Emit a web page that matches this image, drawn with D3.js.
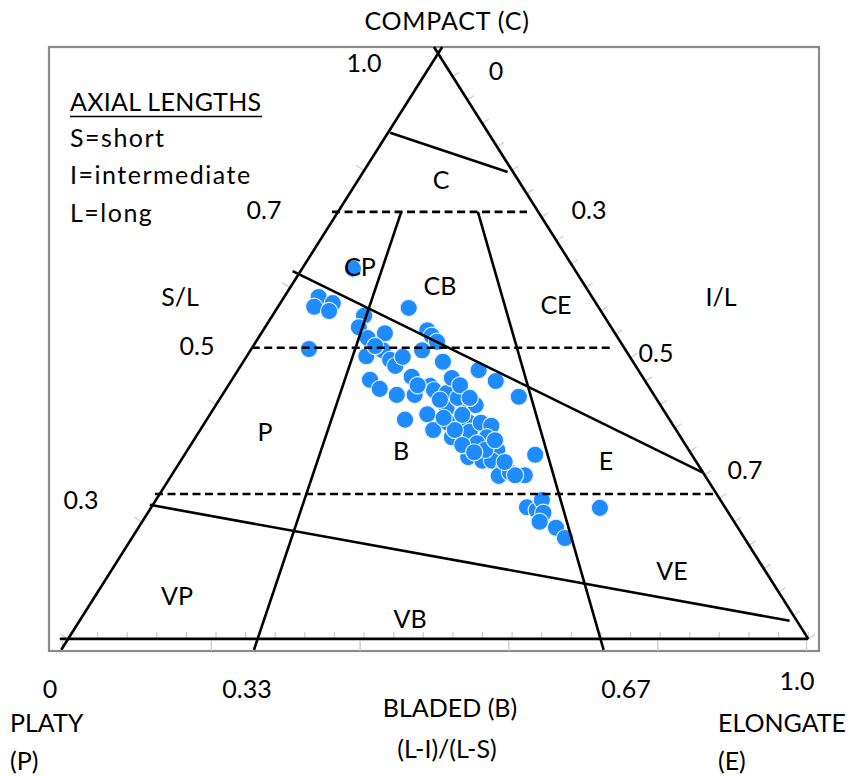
<!DOCTYPE html>
<html>
<head>
<meta charset="utf-8">
<script src="https://cdn.jsdelivr.net/npm/d3@7"></script>
<style>
  html, body { margin: 0; padding: 0; background: #fff; }
  svg { display: block; }
  text { font-family: Lato, "Open Sans", sans-serif; fill: #000; }
</style>
</head>
<body>
<svg id="chart" width="859" height="776"></svg>
<script>
// Sneed & Folk form diagram: horizontal axis is (L-I)/(L-S), vertical is the diagram height.
// Sample positions in diagram units (x: 0 = platy edge, 1 = elongate edge; y: 0 = axis, 1 = top).
const sampleX = [0.391,0.345,0.339,0.364,0.359,0.466,0.332,0.406,0.399,0.411,0.434,0.491,0.497,0.504,
  0.409,0.431,0.441,0.448,0.458,0.484,0.512,0.414,0.427,0.450,0.470,0.495,0.500,0.517,0.524,0.560,
  0.583,0.614,0.461,0.491,0.499,0.517,0.543,0.556,0.519,0.524,0.546,0.548,0.563,0.577,0.571,0.558,
  0.585,0.546,0.565,0.578,0.593,0.587,0.622,0.636,0.625,0.638,0.645,0.647,0.642,0.664,0.676,0.723,
  0.532,0.538,0.508,0.474,0.528,0.569,0.602,0.421,0.535,0.548,0.582,0.609,0.513,0.538,0.554,0.595,0.478];
const sampleY = [0.633,0.586,0.570,0.576,0.563,0.568,0.500,0.555,0.536,0.518,0.526,0.531,0.522,0.512,
  0.488,0.498,0.482,0.472,0.487,0.498,0.479,0.449,0.434,0.424,0.454,0.439,0.432,0.427,0.452,0.465,
  0.447,0.421,0.383,0.392,0.366,0.402,0.409,0.407,0.378,0.354,0.379,0.363,0.378,0.373,0.354,0.344,
  0.333,0.321,0.315,0.315,0.300,0.290,0.291,0.325,0.238,0.233,0.250,0.229,0.214,0.204,0.187,0.237,
  0.419,0.391,0.416,0.424,0.366,0.333,0.296,0.505,0.440,0.419,0.349,0.291,0.386,0.341,0.329,0.313,0.440];

// Class boundaries of the diagram, as [x1, y1, x2, y2] in the same units.
const frameSegments = [
  [-0.001, 0.002, 0.511, 1.000],   // platy side
  [ 0.500, 1.000, 1.003, 0.020],   // elongate side
  [-0.003, 0.020, 1.003, 0.020],   // base
];
const solidSegments = [
  [0.441, 0.858, 0.599, 0.793],    // compact cap
  [0.310, 0.629, 0.862, 0.295],    // CP/CB/CE lower limit
  [0.118, 0.242, 0.978, 0.050],    // very platy/bladed/elongate limit
  [0.456, 0.727, 0.258, 0.002],    // (L-I)/(L-S) = 0.33
  [0.559, 0.727, 0.728, 0.002],    // (L-I)/(L-S) = 0.67
];
const dashedSegments = [
  [0.363, 0.727, 0.625, 0.727],    // S/L = 0.7
  [0.255, 0.502, 0.739, 0.502],    // S/L = 0.5
  [0.125, 0.260, 0.880, 0.260],    // S/L = 0.3
];

const regionNames = ["C", "CP", "CB", "CE", "P", "B", "E", "VP", "VB", "VE"];
const bottomTickLabels = ["0", "0.33", "0.67", "1.0"];
const slLabels = ["1.0", "0.7", "0.5", "0.3"];
const ilLabels = ["0", "0.3", "0.5", "0.7"];
const legendLines = ["S=short", "I=intermediate", "L=long"];

const svg = d3.select("#chart");

const x = d3.scaleLinear().domain([0, 1]).range([62, 806]);
const y = d3.scaleLinear().domain([0, 1]).range([651, 47]);

// plot frame
const plotLeft = 49, plotRight = 819, plotTop = 47, plotBottom = 651;
svg.append("rect")
  .attr("x", plotLeft).attr("y", plotTop)
  .attr("width", plotRight - plotLeft).attr("height", plotBottom - plotTop)
  .attr("fill", "#fff").attr("stroke", "#8a8a8a").attr("stroke-width", 2.2);

// horizontal axis ticks (inside, pointing up)
const axisG = svg.append("g").attr("transform", `translate(0,${plotBottom})`);
const xAxis = d3.axisBottom(x).tickValues(d3.range(0, 1.0001, 0.2)).tickSize(-10).tickFormat("");
axisG.call(xAxis);
axisG.select(".domain").remove();
axisG.selectAll(".tick line").attr("stroke", "#c8c8c8").attr("stroke-width", 1.3);

// faint ternary ticks along the triangle sides
const apex = [x(0.505), y(0.990)], bl = [x(0.008), y(0.020)], br = [x(1.003), y(0.020)];
const tickG = svg.append("g").attr("stroke", "#cfcfcf").attr("stroke-width", 1.3);
function sideTicks(a, b, n, len, outward) {
  const dx = b[0] - a[0], dy = b[1] - a[1];
  const L = Math.hypot(dx, dy);
  let nx = -dy / L, ny = dx / L;
  if (outward) { nx = -nx; ny = -ny; }
  for (let i = 1; i <= n; i++) {
    const t = i / n;
    const px = a[0] + dx * t, py = a[1] + dy * t;
    tickG.append("line")
      .attr("x1", px).attr("y1", py)
      .attr("x2", px + nx * len).attr("y2", py + ny * len);
  }
}
sideTicks(apex, bl, 5, 9, false);
sideTicks(apex, br, 25, 8, true);
sideTicks(bl, br, 25, 7, true);

// samples
svg.append("g").selectAll("circle")
  .data(d3.zip(sampleX, sampleY))
  .join("circle")
  .attr("cx", d => x(d[0])).attr("cy", d => y(d[1]))
  .attr("r", 8.6)
  .attr("fill", "#1e8cff")
  .attr("stroke", "#eaf3ff").attr("stroke-width", 1.1);

// class boundaries
const segG = svg.append("g").attr("stroke", "#000").attr("stroke-linecap", "butt");
function drawSegs(list, dash) {
  segG.append("g").selectAll("line").data(list).join("line")
    .attr("x1", d => x(d[0])).attr("y1", d => y(d[1]))
    .attr("x2", d => x(d[2])).attr("y2", d => y(d[3]))
    .attr("stroke-width", 2.6)
    .attr("stroke-dasharray", dash);
}
drawSegs(frameSegments, null);
drawSegs(solidSegments, null);
drawSegs(dashedSegments, "8,4.5");

// text
const fs = 25;
function label(t, px, py, anchor) {
  return svg.append("text").attr("x", px).attr("y", py)
    .attr("text-anchor", anchor || "middle").attr("font-size", fs).text(t);
}

label("COMPACT (C)", 447, 30).attr("letter-spacing", 0.8);

// legend
label("AXIAL LENGTHS", 70, 111, "start").attr("letter-spacing", 0.3);
svg.append("line").attr("x1", 70).attr("x2", 262).attr("y1", 116.5).attr("y2", 116.5)
  .attr("stroke", "#000").attr("stroke-width", 1.6);
const legendBaselines = [147, 184, 222];
legendLines.forEach((t, i) => label(t, 70, legendBaselines[i], "start").attr("letter-spacing", 1.5));

// S/L values along the platy side, I/L values along the elongate side
const slPos = [[364, 72], [264, 219], [197, 355], [81, 509]];
slLabels.forEach((t, i) => label(t, slPos[i][0], slPos[i][1]));
const ilPos = [[496, 80], [589, 219], [656, 362], [745, 479]];
ilLabels.forEach((t, i) => label(t, ilPos[i][0], ilPos[i][1]));
label("S/L", 180, 306);
label("I/L", 721, 306);

// class names
const regionPos = {
  C: [441, 189], CP: [360, 276], CB: [440, 295], CE: [556, 314],
  P: [265, 441], B: [401, 460], E: [606, 470],
  VP: [177, 605], VB: [410, 628], VE: [672, 580]
};
regionNames.forEach(n => label(n, regionPos[n][0], regionPos[n][1]));

// bottom scale labels
const bottomPos = [[50, 698], [247, 698], [626, 698], [797, 690]];
bottomTickLabels.forEach((t, i) => label(t, bottomPos[i][0], bottomPos[i][1]));
label("BLADED (B)", 450, 717);
label("(L-I)/(L-S)", 447, 758);
label("PLATY", 10, 732, "start");
label("(P)", 10, 770, "start");
label("ELONGATE", 718, 732, "start");
label("(E)", 718, 770, "start");
</script>
</body>
</html>
